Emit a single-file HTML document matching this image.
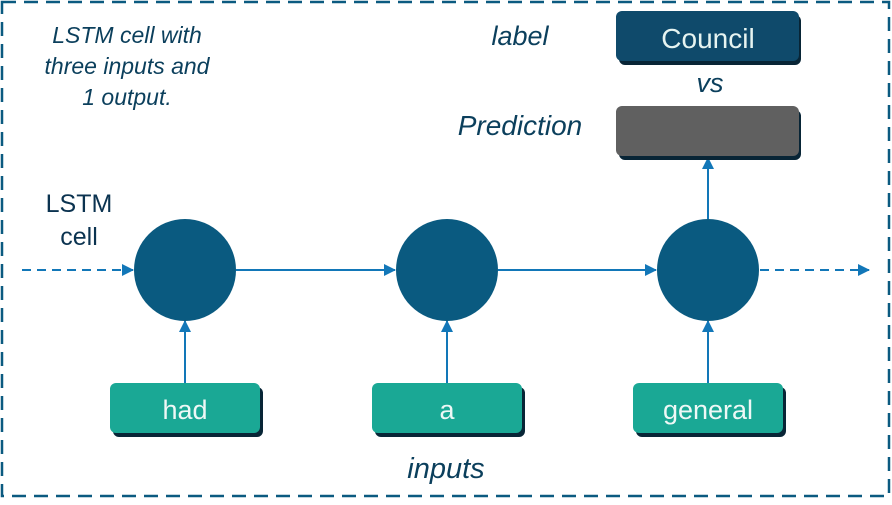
<!DOCTYPE html>
<html><head><meta charset="utf-8"><style>
html,body{margin:0;padding:0;background:#fff;width:892px;height:505px;overflow:hidden}
text{font-family:"Liberation Sans",sans-serif}
</style></head><body>
<svg width="892" height="505" viewBox="0 0 892 505" xmlns="http://www.w3.org/2000/svg">
<defs>
<marker id="ar" markerWidth="12" markerHeight="12" refX="11" refY="6" orient="auto" markerUnits="userSpaceOnUse">
<path d="M0,0 L12,6 L0,12 z" fill="#1277b8"/></marker>
</defs>
<rect x="2" y="2" width="887" height="494" fill="none" stroke="#0b5a80" stroke-width="2.5" stroke-dasharray="14,8"/>
<g fill="#0b3f5c" font-style="italic" text-anchor="middle">
<text x="127" y="43" font-size="23">LSTM cell with</text>
<text x="127" y="74" font-size="23">three inputs and</text>
<text x="127" y="105" font-size="23">1 output.</text>
<text x="520" y="45" font-size="27">label</text>
<text x="520" y="135" font-size="28">Prediction</text>
<text x="710" y="92" font-size="27">vs</text>
<text x="446" y="478" font-size="29">inputs</text>
</g>
<g fill="#0b3350" font-size="25" text-anchor="middle">
<text x="79" y="212">LSTM</text>
<text x="79" y="245">cell</text>
</g>
<line x1="22" y1="270" x2="133" y2="270" stroke="#1277b8" stroke-width="2" stroke-dasharray="9,6" marker-end="url(#ar)"/>
<line x1="236" y1="270" x2="395" y2="270" stroke="#1277b8" stroke-width="2" marker-end="url(#ar)"/>
<line x1="498" y1="270" x2="656" y2="270" stroke="#1277b8" stroke-width="2" marker-end="url(#ar)"/>
<line x1="760" y1="270" x2="869" y2="270" stroke="#1277b8" stroke-width="2" stroke-dasharray="9,6" marker-end="url(#ar)"/>
<line x1="185" y1="383" x2="185" y2="321" stroke="#1277b8" stroke-width="2" marker-end="url(#ar)"/>
<line x1="447" y1="383" x2="447" y2="321" stroke="#1277b8" stroke-width="2" marker-end="url(#ar)"/>
<line x1="708" y1="383" x2="708" y2="321" stroke="#1277b8" stroke-width="2" marker-end="url(#ar)"/>
<line x1="708" y1="219" x2="708" y2="158" stroke="#1277b8" stroke-width="2" marker-end="url(#ar)"/>
<circle cx="185" cy="270" r="51" fill="#0a5a80"/>
<circle cx="447" cy="270" r="51" fill="#0a5a80"/>
<circle cx="708" cy="270" r="51" fill="#0a5a80"/>
<rect x="619" y="15" width="182" height="50" rx="6" fill="#082536"/>
<rect x="616" y="11" width="183" height="50" rx="6" fill="#0f4a6b"/>
<text x="708" y="48" font-size="28" fill="#e6f4f1" text-anchor="middle">Council</text>
<rect x="619" y="110" width="182" height="50" rx="6" fill="#082536"/>
<rect x="616" y="106" width="183" height="50" rx="6" fill="#606060"/>
<rect x="113" y="387" width="150" height="50" rx="6" fill="#082536"/>
<rect x="110" y="383" width="150" height="50" rx="6" fill="#1aa895"/>
<text x="185" y="419" font-size="27" fill="#eef8f6" text-anchor="middle">had</text>
<rect x="375" y="387" width="150" height="50" rx="6" fill="#082536"/>
<rect x="372" y="383" width="150" height="50" rx="6" fill="#1aa895"/>
<text x="447" y="419" font-size="27" fill="#eef8f6" text-anchor="middle">a</text>
<rect x="636" y="387" width="150" height="50" rx="6" fill="#082536"/>
<rect x="633" y="383" width="150" height="50" rx="6" fill="#1aa895"/>
<text x="708" y="419" font-size="27" fill="#eef8f6" text-anchor="middle">general</text>
</svg>
</body></html>
